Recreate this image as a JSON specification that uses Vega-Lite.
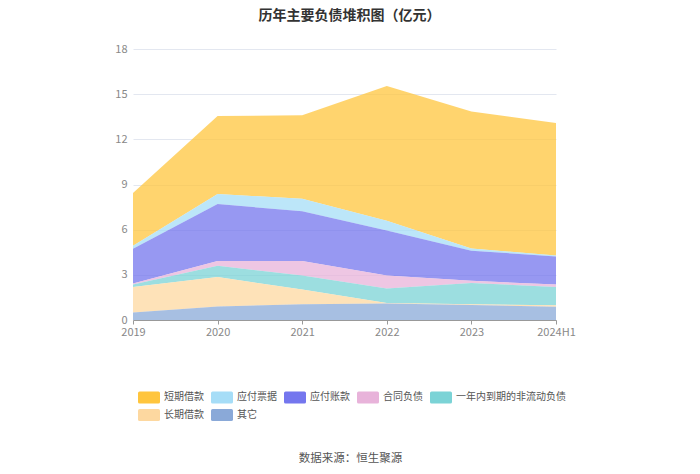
{
  "$schema": "https://vega.github.io/schema/vega-lite/v6.json",
  "width": 423,
  "height": 271,
  "autosize": {"type": "none"},
  "padding": {"left": 133, "top": 49, "right": 144, "bottom": 154},
  "background": "white",
  "title": {
    "text": "历年主要负债堆积图（亿元）",
    "fontSize": 14,
    "fontWeight": "bold",
    "color": "#333333",
    "font": "Noto Sans CJK SC",
    "anchor": "middle",
    "offset": 20,
    "dx": 5
  },
  "config": {
    "view": {"stroke": null},
    "font": "Noto Sans CJK SC"
  },
  "data": {
    "values": [
      {"year": "2019", "type": "短期借款", "value": 3.5},
      {"year": "2019", "type": "应付票据", "value": 0.2},
      {"year": "2019", "type": "应付账款", "value": 2.3},
      {"year": "2019", "type": "合同负债", "value": 0.08},
      {"year": "2019", "type": "一年内到期的非流动负债", "value": 0.15},
      {"year": "2019", "type": "长期借款", "value": 1.7},
      {"year": "2019", "type": "其它", "value": 0.5},
      {"year": "2020", "type": "短期借款", "value": 5.18},
      {"year": "2020", "type": "应付票据", "value": 0.67},
      {"year": "2020", "type": "应付账款", "value": 3.78},
      {"year": "2020", "type": "合同负债", "value": 0.32},
      {"year": "2020", "type": "一年内到期的非流动负债", "value": 0.75},
      {"year": "2020", "type": "长期借款", "value": 1.95},
      {"year": "2020", "type": "其它", "value": 0.9},
      {"year": "2021", "type": "短期借款", "value": 5.55},
      {"year": "2021", "type": "应付票据", "value": 0.83},
      {"year": "2021", "type": "应付账款", "value": 3.3},
      {"year": "2021", "type": "合同负债", "value": 0.96},
      {"year": "2021", "type": "一年内到期的非流动负债", "value": 0.93},
      {"year": "2021", "type": "长期借款", "value": 0.98},
      {"year": "2021", "type": "其它", "value": 1.05},
      {"year": "2022", "type": "短期借款", "value": 8.95},
      {"year": "2022", "type": "应付票据", "value": 0.65},
      {"year": "2022", "type": "应付账款", "value": 3.0},
      {"year": "2022", "type": "合同负债", "value": 0.85},
      {"year": "2022", "type": "一年内到期的非流动负债", "value": 0.97},
      {"year": "2022", "type": "长期借款", "value": 0.03},
      {"year": "2022", "type": "其它", "value": 1.1},
      {"year": "2023", "type": "短期借款", "value": 9.1},
      {"year": "2023", "type": "应付票据", "value": 0.15},
      {"year": "2023", "type": "应付账款", "value": 2.0},
      {"year": "2023", "type": "合同负债", "value": 0.15},
      {"year": "2023", "type": "一年内到期的非流动负债", "value": 1.4},
      {"year": "2023", "type": "长期借款", "value": 0.05},
      {"year": "2023", "type": "其它", "value": 1.0},
      {"year": "2024H1", "type": "短期借款", "value": 8.8},
      {"year": "2024H1", "type": "应付票据", "value": 0.06},
      {"year": "2024H1", "type": "应付账款", "value": 1.87},
      {"year": "2024H1", "type": "合同负债", "value": 0.15},
      {"year": "2024H1", "type": "一年内到期的非流动负债", "value": 1.22},
      {"year": "2024H1", "type": "长期借款", "value": 0.1},
      {"year": "2024H1", "type": "其它", "value": 0.88}
    ]
  },
  "transform": [
    {"calculate": "indexof(['其它','长期借款','一年内到期的非流动负债','合同负债','应付账款','应付票据','短期借款'], datum.type)", "as": "rank"}
  ],
  "mark": {"type": "area", "fillOpacity": 0.75, "line": false},
  "encoding": {
    "x": {
      "field": "year",
      "type": "ordinal",
      "scale": {"type": "point", "padding": 0},
      "axis": {
        "labelAngle": 0,
        "labelColor": "#888888",
        "labelFontSize": 11,
        "labelPadding": 2,
        "tickSize": 4,
        "tickColor": "#999999",
        "domainColor": "#999999",
        "grid": false,
        "title": "数据来源：恒生聚源",
        "titleFontSize": 11.5,
        "titleFontWeight": "normal",
        "titleColor": "#555555",
        "titlePadding": 115,
        "titleX": 217,
        "titleAlign": "center"
      }
    },
    "y": {
      "field": "value",
      "type": "quantitative",
      "stack": "zero",
      "scale": {"domain": [0, 18], "nice": false},
      "axis": {
        "values": [0, 3, 6, 9, 12, 15, 18],
        "title": null,
        "domain": false,
        "ticks": false,
        "labelColor": "#888888",
        "labelFontSize": 11,
        "labelPadding": 6,
        "gridColor": "#E3E7F0"
      }
    },
    "order": {"field": "rank", "type": "quantitative", "sort": "ascending"},
    "color": {
      "field": "type",
      "type": "nominal",
      "sort": ["短期借款", "应付票据", "应付账款", "合同负债", "一年内到期的非流动负债", "长期借款", "其它"],
      "scale": {
        "domain": ["短期借款", "应付票据", "应付账款", "合同负债", "一年内到期的非流动负债", "长期借款", "其它"],
        "range": ["#FFC53D", "#A6DDF7", "#7476EE", "#E8B3DA", "#7BD3D6", "#FDD8A0", "#8AA9D8"]
      },
      "legend": {
        "title": null,
        "orient": "none",
        "legendX": 5,
        "legendY": 337,
        "direction": "horizontal",
        "columns": 5,
        "symbolType": "M-0.85,-0.55 H0.85 Q1,-0.55 1,-0.4 V0.4 Q1,0.55 0.85,0.55 H-0.85 Q-1,0.55 -1,0.4 V-0.4 Q-1,-0.55 -0.85,-0.55 Z",
        "symbolSize": 484,
        "symbolOpacity": 1,
        "symbolStrokeWidth": 0,
        "labelFontSize": 10,
        "labelColor": "#555555",
        "labelOffset": 4,
        "columnPadding": 7,
        "rowPadding": -1
      }
    }
  }
}
